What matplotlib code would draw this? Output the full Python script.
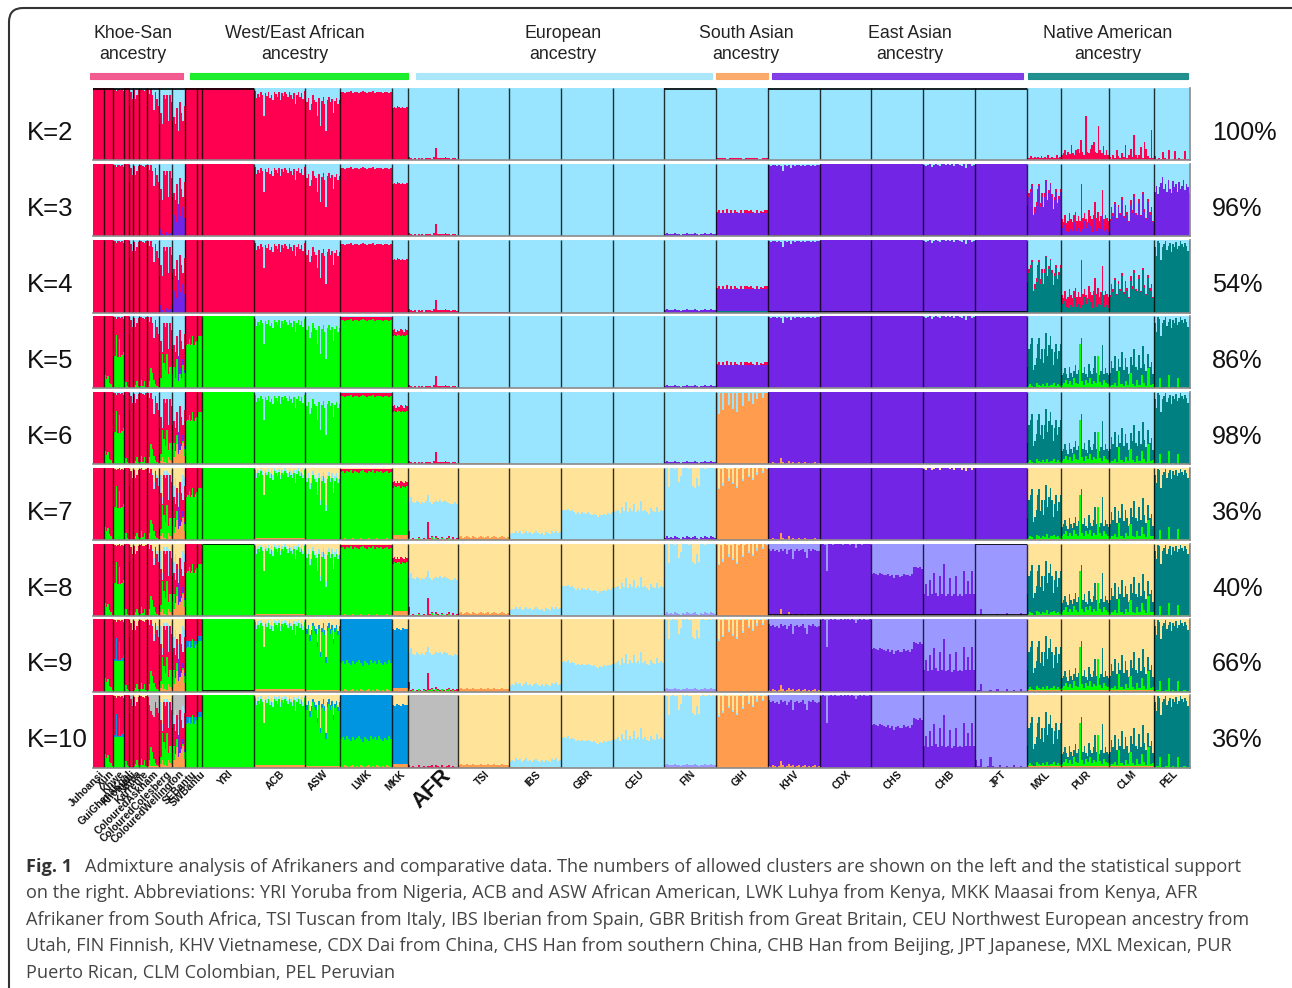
import matplotlib
matplotlib.use("Agg")
import matplotlib.pyplot as plt
from matplotlib.patches import FancyBboxPatch, Rectangle

W, H = 1292, 988
R, B, P, T, G, O, C, L, Z, Y = ('#FF0050', '#99E5FF', '#7325E5', '#008080', '#00FF00',
                               '#FF9C4D', '#FFE399', '#9B99FF', '#0095E0', '#BDBDBD')

POPS = ['Juhoansi', 'Xun', 'Khwe', 'GuiGhanaKgal', 'Khomani', 'Nama', 'Karretjie', 'ColouredAskham',
        'ColouredColesberg', 'ColouredWellington', 'SEBantu', 'SWBantu', 'YRI', 'ACB', 'ASW', 'LWK', 'MKK',
        'AFR', 'TSI', 'IBS', 'GBR', 'CEU', 'FIN', 'GIH', 'KHV', 'CDX', 'CHS', 'CHB', 'JPT', 'MXL', 'PUR', 'CLM', 'PEL']
SIZES = [11, 9, 11, 5, 4, 6, 8, 12, 13, 13, 12, 5, 52, 51, 35, 52, 16, 50, 51, 52, 52, 51, 52, 52, 52, 51, 52, 52, 52, 34, 48, 45, 36]
K_VALUES = [2, 3, 4, 5, 6, 7, 8, 9, 10]
SUPPORT = ['100%', '96%', '54%', '86%', '98%', '36%', '40%', '66%', '36%']

# Khoe-San and Bantu profiles
XUN_G = [.18, .13, .17, .08, .06, .02]
KHWE_R = [.99, .98, .96, .98, .99, .97, .98, .96]
KHWE_G = [.55, .45, .74, .44, .68, .44, .46, .50]
GUI_G = [.10, .09, .03, .02]
KHO_R = [.75, .95, .85]
NAMA_R = [.97, .85, .90, .97]
NAMA_G = [.02, .05, .10, .04]
KAR_R = [.98, .99, .97, .96, .98]
KAR_G = [.03, .12, .04, .10, .02]
ASK_R = [.99, .92, .98, .90, .70, .95, .85, .75]
ASK_G = [.02, .10, .28, .22, .12, .06, .03, .02]
COL_R = [.50, .65, .50, .90, .85, .90, .55, .90, .80]
COL_P = [.02, .10, .03, .01, .18, .06, .03, .05, .08]
COL_G = [.10, .15, .48, .35, .25, .48, .20, .30, .30]
COL_O = [.02, .05, .10, .03, .08, .02, .10, .06, .03]
WEL_R = [.55, .60, .50, .72, .40, .80, .65, .55, .75]
WEL_P = [.12, .30, .40, .20, .45, .28, .20, .40, .25]
WEL_G = [.20, .30, .15, .40, .10, .20, .15, .32, .22]
WEL_O = [.05, .10, .18, .28, .15, .20, .25, .30, .12]
WEL_C = [.90, .75, .85, .70, .65, .80, .78, .90, .85]
COL_C = [.95, .90, .60, .95, .90, .95, .92, .85, .96]
ASK_C = [.99, .96, .98, .93, .80, .97, .90, .85]
ASK_Y = [.97, .86, .78, .72, .70, .90, .82, .75]
WEL_Y = [.85, .72, .80, .70, .66, .78, .74, .85, .80]
SEB_G = [.64, .60, .62, .68, .60, .62, .72, .60, .64, .66]

# African reference profiles
ACB_TOP = [.96, .86, .92, .88, .95, .90, .62, .93, .89, .94, .86, .91, .83, .95, .92, .88, .94, .84, .93, .89,
           .95, .92, .87, .94, .90, .85, .93, .78, .91, .95, .88, .93, .85, .96]
ACB_BL = [.99, .92, .97, .93, .98, .95, .62, .97, .94, .98, .92, .96, .90, .99, .97, .94, .98, .90, .97, .94,
          .99, .97, .93, .98, .95, .91, .97, .84, .96, .99, .94, .97, .90, .99]
ASW_TOP = [.82, .80, .86, .70, .78, .90, .84, .80, .62, .86, .48, .82, .88, .78, .40, .84, .88, .80, .85, .65, .82, .86, .78, .84]
ASW_BL = [.88, .86, .92, .78, .85, .95, .90, .86, .68, .92, .55, .88, .94, .85, .48, .90, .94, .86, .92, .72, .88, .92, .84, .90]
LWK_TOP = [.94, .95, .93, .95, .94, .96, .93, .95, .94, .93, .95, .96, .94, .93, .95, .94, .96, .93, .95, .94, .95, .93, .94, .95, .93, .94]
LWK_G = [.40, .42, .38, .44, .40, .36, .42, .38, .41, .44, .39, .35, .42, .40, .37, .43, .39, .42, .38, .44, .40, .36, .41, .38, .43, .40]
LWK_O = [.02, .01, .03, .02, .01, .02, .03, .01, .02, .01, .03, .02, .01, .02, .03, .01, .02, .01, .03, .02, .01, .02, .01, .03, .02, .01]
MKK_TOP = [.72, .74, .73, .75, .74, .72, .74, .73, .72, .74]
MKK_R = [.80, .82, .78, .81, .79, .82, .80, .78, .82, .80]
MKK_AZ = [.86, .85, .87, .86, .85, .87, .86, .86]

# European profiles
AFR_R2 = [.05, .03, .02, .03, .01, .03, .02, .03, .01, .03, .04, .03, .02, .05, .17, .04, .03, .04, .03, .05, .03, .04, .02, .03, .04, .02]
AFR_BL = [.53, .60, .52, .51, .54, .52, .50, .53, .51, .54, .62, .53, .50, .52, .54, .53, .55, .52, .54, .55, .53, .51, .50, .49, .52, .50]
AFR_R = [.13, .02, .03, .01, .02, .04, .02, .01, .03, .02, .25, .03, .05, .02, .06, .03, .02, .04, .02, .01, .03, .05, .02, .04, .02, .03]
AFR_G = [.03, .01, .02, .01, .01, .03, .01, .01, .02, .01, .02, .02, .04, .01, .03, .02, .01, .03, .01, .01, .02, .03, .01, .02, .01, .01]
TSI_O = [.04, .05, .03, .04, .05, .04, .03, .05, .04, .03, .04, .05, .04, .03, .04, .05, .03, .04, .05, .04, .03, .04, .05, .04, .03, .04]
IBS_BL = [.08, .10, .09, .13, .10, .12, .08, .10, .13, .09, .11, .08, .10, .12, .09, .08, .10, .07, .11, .09, .08, .12, .10, .13, .09, .11]
GBR_BL = [.41, .42, .41, .43, .40, .41, .39, .36, .38, .36, .38, .37, .36, .38, .36, .35, .36, .34, .32, .35, .34, .36, .35, .37, .36, .38]
CEU_BL = [.38, .40, .42, .37, .46, .40, .52, .38, .44, .40, .50, .39, .42, .38, .54, .40, .42, .38, .36, .44, .40, .38, .46, .39, .42, .40]
FIN_BL = [1, .99, .73, .99, 1, .98, .99, .80, .88, 1, .99, 1, .98, .99, .75, .72, .85, .74, .99, 1, .98, .99, 1, .99, 1, .99]
FIN_P = [.03, .05, .03, .04, .03, .05, .04, .03, .02, .04, .03, .05, .04, .03, .04, .05, .03, .02, .04, .03, .05, .04, .03, .05, .04, .03]
GIH_C = [1, .72, .90, .78, 1, .74, .85, .95, .80, .88, .75, .92, 1, .84, .78, 1, .90, .75, .86, 1, .94, .84, 1, .95, .86, 1]
GIH_OR = [.99, .70, .98, .75, .99, .98, .82, .98, .77, .99, .72, .98, .99, .81, .98, .99, .87, .99, .83, .99, .90, .99, .99, .92, .99, .98]
GIH_TOP = [.34, .36, .30, .37, .33, .38, .32, .36, .31, .36, .34, .33, .37, .30, .36, .37, .35, .36, .34, .33, .36, .30, .35, .34, .36, .37]
GIH_RL = [.03, .04, .03, .02, .04, .03, .03, .04, .02, .03, .04, .03, .03, .02, .04, .03]

# East Asian profiles
KHV_T = [.98, .97, .98, .99, .97, .98, .97, .90, .98, .97, .99, .94, .98, .97, .99, .98, .97, .98, .97, .98, .99, .97, .98, .97, .98, .98]
CHB_T = [.98, .97, .99, 1, .96, .98, 1, .99, .97, 1, 1, .99, 1, .98, 1, .97, 1, 1, .99, .97, 1, .95, 1, 1, .97, .99]
KHV_P = [.93, .90, .92, .89, .91, .88, .93, .90, .92, .86, .91, .93, .79, .90, .92, .89, .91, .93, .88, .80, .92, .90, .93, .91, .89, .90]
KHV_O = [.02, .01, .03, .02, .01, .02, .09, .03, .01, .02, .05, .02, .03, .01, .02, .03, .01, .02, .03, .01, .02, .01, .02, .03, .01, .02]
CDX_P = [.99, 1, .98, .62, .99, 1, .98, 1, .99, .99, 1, .98, 1, .99, 1, .98, 1, .99, .94, .99, 1, .98, 1, .99, .99, 1]
CHS_P = [.58, .60, .58, .57, .60, .58, .57, .56, .58, .55, .57, .52, .56, .57, .54, .55, .58, .56, .57, .55, .58, .68, .67, .66, .68, .65]
CHB_P = [.30, .44, .28, .50, .30, .60, .32, .28, .55, .30, .72, .28, .30, .52, .27, .30, .55, .28, .30, .28, .62, .30, .48, .30, .62, .30]
JPT_P = [.01, .02, .10, .01, .01, .01, .02, .01, .01, .03, .01, .01, .01, .04, .01, .01, .02, .01, .01, .04, .01, .01]
JPT_P2 = [.10, .02, .12, .01, .01, .02, .14, .02, .01, .01, .04, .01, .01, .02, .01, .01, .03, .01, .01, .02, .01, .01]

# Native American and South American profiles
MXL_R2 = [.03, .04, .06, .04, .05, .03, .05, .04, .06, .03, .05, .04, .07, .04, .05, .03, .04, .08, .04, .05]
PUR_R2 = [.08, .10, .14, .07, .12, .09, .22, .10, .08, .14, .16, .10, .28, .12, .08, .62, .12, .10, .16, .22, .25, .12, .10, .48, .14, .10, .20, .08, .14, .07]
CLM_R2 = [.05, .02, .08, .04, .14, .06, .03, .10, .05, .22, .04, .08, .16, .05, .35, .07, .04, .08, .18, .03, .25, .16, .06, .04, .42, .03]
PEL_R2 = [.06, .02, .04, .02, .12, .03, .02, .14, .01, .02, .13, .02, .03, .02, .02, .13, .02, .02]
MXL_T = [.30, .55, .62, .70, .25, .32, .42, .62, .70, .40, .55, .35, .55, .76, .45, .60, .72, .55, .32, .50, .62, .40, .52, .62]
PUR_T = [.18, .22, .28, .20, .15, .30, .22, .16, .24, .32, .20, .26, .18, .70, .22, .30, .20, .16, .34, .24, .20, .28, .45, .22, .30, .18, .24, .60, .20, .28, .22, .18]
CLM_T = [.22, .38, .28, .45, .24, .40, .30, .50, .26, .42, .30, .20, .44, .32, .54, .30, .26, .46, .28, .58, .34, .24, .48, .30, .36, .20]
PEL_T = [.90, .78, .98, .96, .72, .90, .94, .98, .86, .92, .96, .84, .95, .90, .97, .88, .92, .98, .94, .90, .96, .92, .85, .98]
PEL_P = [.62, .70, .58, .68, .74, .82, .65, .72, .62, .78, .66, .60, .76, .68, .72, .62, .75, .66, .70, .78, .64, .72, .68, .60]
MXL_G = [.03, .06, .04, .02, .07, .05, .03, .06, .04, .08, .03, .05, .07, .04, .06, .03]
PUR_G = [.05, .08, .12, .06, .10, .05, .14, .08, .06, .62, .10, .05, .12, .08, .14, .06, .10, .07, .45, .09, .05, .12, .08, .06]
CLM_G = [.03, .05, .08, .04, .24, .06, .03, .10, .05, .22, .06, .04, .12, .05, .18, .08, .04, .28, .05, .06]
PEL_G = [.01, .02, .14, .01, .01, .02, .18, .01, .02, .01, .15, .01, .01, .02, .01, .01]
MXL_MR = [.42, .60, .66, .73, .30, .40, .48, .66, .72, .46, .60, .40, .60, .78, .50, .64, .74, .58, .38, .54, .66, .46, .56, .66]
PUR_MR = [.24, .20, .30, .18, .22, .32, .24, .20, .30, .34, .22, .28, .22, .72, .26, .32, .24, .20, .36, .28, .24, .30, .48, .26, .34, .22, .28, .64, .24, .30, .26, .22]
CLM_MR = [.24, .40, .32, .48, .26, .44, .32, .54, .28, .44, .34, .22, .50, .36, .58, .32, .30, .52, .30, .62, .38, .26, .52, .34, .40, .22]
PUR_ML = [.12, .10, .16, .08, .06, .14, .10, .08, .20, .14, .08, .12, .06, .18, .10, .22, .12, .08, .18, .14, .06, .10, .24, .08, .12, .16, .10, .30, .08, .14, .10, .06]

# Ancestry stacks: from each K onward, layers are painted top to bottom as (colour, upper edge)
STACKS = {
    'Juhoansi': {2: [(R, 1)]},
    'Xun': {2: [(R, 1)], 5: [(R, 1), (G, XUN_G)]},
    'Khwe': {2: [(B, 1), (R, KHWE_R)], 5: [(B, 1), (R, KHWE_R), (G, KHWE_G)], 7: [(C, 1), (R, KHWE_R), (G, KHWE_G)],
             9: [(C, 1), (R, KHWE_R), (Z, KHWE_G), (G, .42)]},
    'GuiGhanaKgal': {2: [(R, 1)], 5: [(R, 1), (G, GUI_G)]},
    'Khomani': {2: [(B, 1), (R, KHO_R)], 7: [(C, 1), (R, KHO_R)], 10: [(Y, 1), (R, KHO_R)]},
    'Nama': {2: [(B, 1), (R, NAMA_R)], 5: [(B, 1), (R, NAMA_R), (G, NAMA_G)], 7: [(C, 1), (R, NAMA_R), (G, NAMA_G)]},
    'Karretjie': {2: [(B, 1), (R, KAR_R)], 5: [(B, 1), (R, KAR_R), (G, KAR_G)], 7: [(C, 1), (R, KAR_R), (G, KAR_G)]},
    'ColouredAskham': {2: [(B, 1), (R, ASK_R)], 5: [(B, 1), (R, ASK_R), (G, ASK_G)],
                       7: [(C, 1), (B, ASK_C), (R, ASK_R), (G, ASK_G)], 10: [(Y, 1), (R, ASK_Y), (G, ASK_G), (O, .02)]},
    'ColouredColesberg': {2: [(B, 1), (R, COL_R)], 3: [(B, 1), (R, COL_R), (P, COL_P)], 5: [(B, 1), (R, COL_R), (P, COL_P), (G, COL_G)],
                          6: [(B, 1), (R, COL_R), (P, COL_P), (G, COL_G), (O, COL_O)],
                          7: [(C, 1), (B, COL_C), (R, COL_R), (P, COL_P), (G, COL_G), (O, COL_O)]},
    'ColouredWellington': {2: [(B, 1), (R, WEL_R)], 3: [(B, 1), (R, WEL_R), (P, WEL_P)], 5: [(B, 1), (R, WEL_R), (P, WEL_P), (G, WEL_G)],
                           6: [(B, 1), (R, WEL_R), (P, WEL_P), (G, WEL_G), (O, WEL_O)],
                           7: [(C, 1), (B, WEL_C), (R, WEL_R), (P, WEL_P), (G, WEL_G), (O, WEL_O)],
                           10: [(Y, 1), (B, WEL_Y), (R, WEL_R), (P, WEL_P), (G, WEL_G), (O, WEL_O)]},
    'SEBantu': {2: [(R, 1)], 5: [(R, 1), (G, SEB_G)], 9: [(R, 1), (Z, .70), (G, SEB_G)]},
    'SWBantu': {2: [(R, 1)], 5: [(R, 1), (G, .72)], 9: [(R, 1), (Z, .76), (G, .70)]},
    'YRI': {2: [(R, 1)], 5: [(G, 1)]},
    'ACB': {2: [(B, 1), (R, ACB_TOP)], 5: [(B, 1), (G, ACB_TOP)], 7: [(C, 1), (B, ACB_BL), (G, ACB_TOP), (O, .03)]},
    'ASW': {2: [(B, 1), (R, ASW_TOP)], 5: [(B, 1), (G, ASW_TOP)], 7: [(C, 1), (B, ASW_BL), (G, ASW_TOP), (O, .02)],
            9: [(C, 1), (B, ASW_BL), (Z, ASW_BL), (G, ASW_TOP), (O, .02)]},
    'LWK': {2: [(B, 1), (R, LWK_TOP)], 5: [(B, 1), (R, .98), (G, LWK_TOP)], 7: [(C, 1), (R, .98), (G, LWK_TOP), (O, LWK_O)],
            9: [(Z, 1), (G, LWK_G), (O, LWK_O)]},
    'MKK': {2: [(B, 1), (R, MKK_TOP)], 5: [(B, 1), (R, MKK_R), (G, MKK_TOP)], 7: [(C, 1), (R, MKK_R), (G, MKK_TOP), (O, .07)],
            9: [(C, 1), (Z, MKK_AZ), (O, .05)]},
    'AFR': {2: [(B, 1), (R, AFR_R2)], 7: [(C, 1), (B, AFR_BL), (R, AFR_R), (G, AFR_G), (O, .01)], 10: [(Y, 1), (R, AFR_G)]},
    'TSI': {2: [(B, 1), (R, .01)], 6: [(B, 1), (O, .02)], 7: [(C, 1), (O, TSI_O)]},
    'IBS': {2: [(B, 1)], 7: [(C, 1), (B, IBS_BL), (O, .01)]},
    'GBR': {2: [(B, 1)], 7: [(C, 1), (B, GBR_BL)]},
    'CEU': {2: [(B, 1)], 7: [(C, 1), (B, CEU_BL)]},
    'FIN': {2: [(B, 1)], 3: [(B, 1), (P, FIN_P)], 7: [(C, 1), (B, FIN_BL), (P, FIN_P)], 8: [(C, 1), (B, FIN_BL), (L, FIN_P)]},
    'GIH': {2: [(B, 1), (R, GIH_RL)], 3: [(B, 1), (R, GIH_TOP), (P, .32)], 4: [(B, 1), (R, GIH_TOP), (P, .32), (T, .02)],
            6: [(B, 1), (O, GIH_OR)], 7: [(C, 1), (B, GIH_C), (O, GIH_OR)]},
    'KHV': {2: [(B, 1)], 3: [(B, 1), (P, KHV_T)], 6: [(P, 1), (O, KHV_O)], 8: [(L, 1), (P, KHV_P), (O, KHV_O)]},
    'CDX': {2: [(B, 1)], 3: [(P, 1)], 8: [(L, 1), (P, CDX_P)]},
    'CHS': {2: [(B, 1)], 3: [(P, 1)], 8: [(L, 1), (P, CHS_P)]},
    'CHB': {2: [(B, 1)], 3: [(B, 1), (P, CHB_T)], 4: [(B, 1), (P, CHB_T), (T, .02)], 6: [(P, 1), (T, .02)], 7: [(C, 1), (P, CHB_T), (T, .02)], 8: [(L, 1), (P, CHB_P)]},
    'JPT': {2: [(B, 1)], 3: [(P, 1)], 4: [(P, 1), (T, .02)], 8: [(L, 1), (P, JPT_P)], 10: [(L, 1), (P, JPT_P2)]},
    'MXL': {2: [(B, 1), (R, MXL_R2)], 3: [(B, 1), (R, MXL_MR), (P, MXL_T)], 4: [(B, 1), (R, MXL_MR), (T, MXL_T)],
            5: [(B, 1), (T, MXL_T), (G, MXL_G)], 7: [(C, 1), (T, MXL_T), (G, MXL_G), (O, .02)]},
    'PUR': {2: [(B, 1), (R, PUR_R2)], 3: [(B, 1), (R, PUR_MR), (P, PUR_ML)], 4: [(B, 1), (R, PUR_MR), (T, PUR_ML)],
            5: [(B, 1), (T, PUR_T), (G, PUR_G)], 7: [(C, 1), (T, PUR_T), (G, PUR_G), (O, .02)]},
    'CLM': {2: [(B, 1), (R, CLM_R2)], 3: [(B, 1), (R, CLM_MR), (P, CLM_T)], 4: [(B, 1), (R, CLM_MR), (T, CLM_T)],
            5: [(B, 1), (T, CLM_T), (G, CLM_G)], 7: [(C, 1), (T, CLM_T), (G, CLM_G), (O, .02)]},
    'PEL': {2: [(B, 1), (R, PEL_R2)], 3: [(B, 1), (P, PEL_P)], 4: [(B, 1), (T, PEL_T)], 5: [(B, 1), (T, PEL_T), (G, PEL_G)],
            7: [(C, 1), (T, PEL_T), (G, PEL_G)]},
}

GROUP_NAMES = ['Khoe-San\nancestry', 'West/East African\nancestry', 'European\nancestry', 'South Asian\nancestry',
               'East Asian\nancestry', 'Native American\nancestry']
GROUP_COLORS = ['#F2538A', '#11EE22', '#A8E6FA', '#FBA765', '#7A35E5', '#178A8A']

CAPTION = ['Admixture analysis of Afrikaners and comparative data. The numbers of allowed clusters are shown on the left and the statistical support',
           'on the right. Abbreviations: YRI Yoruba from Nigeria, ACB and ASW African American, LWK Luhya from Kenya, MKK Maasai from Kenya, AFR',
           'Afrikaner from South Africa, TSI Tuscan from Italy, IBS Iberian from Spain, GBR British from Great Britain, CEU Northwest European ancestry from',
           'Utah, FIN Finnish, KHV Vietnamese, CDX Dai from China, CHS Han from southern China, CHB Han from Beijing, JPT Japanese, MXL Mexican, PUR',
           'Puerto Rican, CLM Colombian, PEL Peruvian']

# Layout, in reference pixels
ROW_TOPS = [88, 164, 240, 316, 392, 467.5, 543.5, 619, 695]
ROW_H, LEFT, RIGHT = 72.5, 93, 1190
STRIP_SPANS = [(90, 183), (190, 408), (416, 712), (716, 768), (772, 1023), (1028, 1188)]
GROUP_X = [133, 295, 563, 746, 910, 1108]
TOP_LINES = {2: [(93, 254), (664, 716), (768, 1027)], 8: [(203, 254), (975, 1027)]}
BOTTOM_LINES = {3: [(768, 1027)], 4: [(768, 1027)], 8: [(768, 1027)], 9: [(203, 254)]}

plt.rcParams['font.family'] = ['Liberation Sans', 'DejaVu Sans']
fig = plt.figure(figsize=(W / 100, H / 100), dpi=100, facecolor='white')
bg = fig.add_axes([0, 0, 1, 1])
bg.set_xlim(0, W)
bg.set_ylim(H, 0)
bg.axis('off')
bg.add_patch(FancyBboxPatch((9, 8), W + 60, H + 60, boxstyle='round,pad=0,rounding_size=14',
                            fc='none', ec='#333333', lw=1.5, clip_on=True))

for name, gx in zip(GROUP_NAMES, GROUP_X):
    bg.text(gx, 44, name, ha='center', va='center', fontsize=12.8, color='#222222', linespacing=1.38)
for (x0, x1), col in zip(STRIP_SPANS, GROUP_COLORS):
    bg.add_patch(Rectangle((x0, 73.5), x1 - x0, 5.5, fc=col, ec=col, lw=0.8, alpha=0.95))

edges = [0]
for s in SIZES:
    edges.append(edges[-1] + s)

for i, (k, top, pct) in enumerate(zip(K_VALUES, ROW_TOPS, SUPPORT)):
    ax = fig.add_axes([LEFT / W, 1 - (top + ROW_H) / H, (RIGHT - LEFT) / W, ROW_H / H])
    ax.set_xlim(0, edges[-1])
    ax.set_ylim(0, 1)
    for p, pop in enumerate(POPS):
        key = max(q for q in STACKS[pop] if q <= k)
        x0, x1 = edges[p], edges[p + 1]
        for col, prof in STACKS[pop][key]:
            vals = list(prof) if isinstance(prof, list) else [prof]
            n = len(vals)
            xs = [x0 + (x1 - x0) * j / n for j in range(n + 1)]
            ax.stairs(vals, xs, baseline=0, fill=True, color=col, lw=0, antialiased=False)
    ax.vlines(edges[1:-1], 0, 1, color='black', lw=1.0, alpha=0.8)
    for a, b in TOP_LINES.get(k, []):
        ax.plot([a - LEFT, b - LEFT], [0.992, 0.992], color='black', lw=1.2, solid_capstyle='butt')
    for a, b in BOTTOM_LINES.get(k, []):
        ax.plot([a - LEFT, b - LEFT], [0.012, 0.012], color='black', lw=1.2, solid_capstyle='butt')
    for side in ('top', 'left'):
        ax.spines[side].set_visible(False)
    for side in ('bottom', 'right'):
        ax.spines[side].set_color('#8a8a8a')
        ax.spines[side].set_linewidth(1.2)
    ax.set_yticks([])
    if k == K_VALUES[-1]:
        centers = [(edges[j] + edges[j + 1]) / 2 + (15 if POPS[j] == 'AFR' else 4) for j in range(len(POPS))]
        ax.set_xticks(centers)
        ax.set_xticklabels(POPS, rotation=45, ha='right', va='center', rotation_mode='anchor',
                           fontsize=7.4, fontweight='bold', color='#111111')
        ax.tick_params(axis='x', length=0, pad=3.5)
        for lab in ax.get_xticklabels():
            if lab.get_text() == 'AFR':
                lab.set_fontsize(16)
    else:
        ax.set_xticks([])
    bg.text(27, top + 45, f'K={k}', ha='left', va='center', fontsize=18.5, color='#111111')
    bg.text(1212, top + 45, pct, ha='left', va='center', fontsize=18.2, color='#111111')

bg.text(26, 866.5, 'Fig. 1', ha='left', va='center', fontsize=13.05, fontweight='bold', color='#333333', family=['Open Sans', 'DejaVu Sans'])
for j, line in enumerate(CAPTION):
    bg.text(85 if j == 0 else 26, 866.5 + j * 26.5, line, ha='left', va='center', fontsize=13.05, color='#444444',
            family=['Open Sans', 'DejaVu Sans'])

fig.savefig('out.png', dpi=100)
